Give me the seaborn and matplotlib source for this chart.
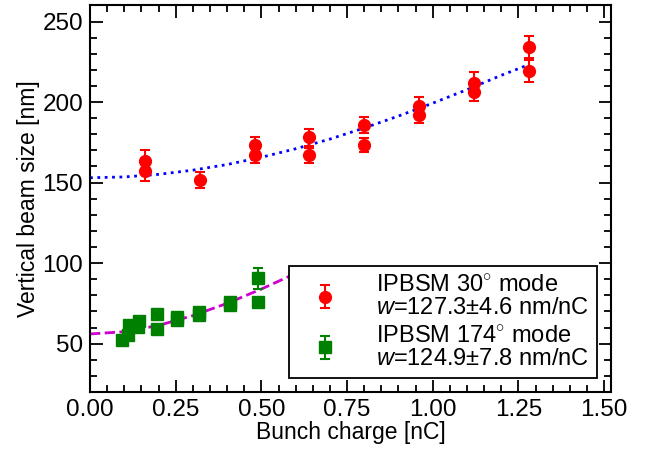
import numpy as np
import pandas as pd
import matplotlib
matplotlib.use('Agg')
import matplotlib.pyplot as plt
import seaborn as sns
from matplotlib.ticker import MultipleLocator, FormatStrFormatter

# IPBSM 30 deg mode data
q30 = [0.16, 0.16, 0.32, 0.48, 0.48, 0.64, 0.64, 0.80, 0.80, 0.96, 0.96, 1.12, 1.12, 1.28, 1.28]
s30 = [163.7, 157.3, 151.6, 173.3, 167.2, 178.0, 167.0, 185.7, 173.4, 197.3, 192.1, 211.8, 206.4, 234.3, 219.1]
e30 = [6.3, 6.6, 4.8, 4.7, 4.8, 5.4, 4.6, 4.7, 4.3, 5.6, 5.0, 6.6, 5.6, 7.0, 6.9]

# IPBSM 174 deg mode data
q174 = [0.092, 0.112, 0.114, 0.141, 0.144, 0.194, 0.194, 0.253, 0.253, 0.319, 0.319, 0.408, 0.408, 0.489, 0.489]
s174 = [52.1, 55.6, 61.8, 60.3, 63.9, 68.7, 59.3, 66.4, 64.6, 69.5, 67.7, 75.8, 73.8, 90.5, 76.0]
e174 = [1.5, 1.5, 1.5, 1.5, 1.5, 1.5, 1.5, 1.5, 1.5, 1.5, 1.5, 1.5, 1.5, 6.5, 1.5]

# fit curves
fit30_q = [0.0, 0.1, 0.2, 0.3, 0.4, 0.5, 0.6, 0.7, 0.8, 0.9, 1.0, 1.1, 1.2, 1.28]
fit30_s = [153.0, 153.5, 155.1, 157.7, 161.2, 165.7, 171.0, 177.0, 183.9, 191.3, 199.3, 207.7, 216.6, 223.2]
fit174_q = [0.0, 0.1, 0.2, 0.3, 0.4, 0.5, 0.6]
fit174_s = [56.0, 57.4, 61.3, 67.4, 75.0, 83.9, 93.6]

label30 = 'IPBSM 30$^{\\circ}$ mode\n$w$=127.3$\\pm$4.6 nm/nC'
label174 = 'IPBSM 174$^{\\circ}$ mode\n$w$=124.9$\\pm$7.8 nm/nC'

sns.set_theme(style='ticks')
plt.rcParams['font.family'] = ['Liberation Sans', 'DejaVu Sans']
plt.rcParams['mathtext.fontset'] = 'custom'
plt.rcParams['mathtext.rm'] = 'Liberation Sans'
plt.rcParams['mathtext.it'] = 'Liberation Sans:italic'
plt.rcParams['text.color'] = 'black'
plt.rcParams['axes.labelcolor'] = 'black'

fig, ax = plt.subplots(figsize=(6.5, 4.5), dpi=100)
fig.subplots_adjust(left=0.1385, right=0.94, top=0.988, bottom=0.129)

fit30 = pd.DataFrame({'q': fit30_q, 's': fit30_s})
fit174 = pd.DataFrame({'q': fit174_q, 's': fit174_s})
sns.lineplot(data=fit30, x='q', y='s', ax=ax, color='#0000ff', linestyle=':', linewidth=2, legend=False)
sns.lineplot(data=fit174, x='q', y='s', ax=ax, color='#cc00cc', linestyle='--', linewidth=2, legend=False)

ax.errorbar(q30, s30, yerr=e30, fmt='o', color='#ff0000', markersize=8.5,
            capsize=3.4, elinewidth=1.5, capthick=1.5, label=label30)
ax.errorbar(q174, s174, yerr=e174, fmt='s', color='#008000', markersize=8.5,
            capsize=3.4, elinewidth=1.5, capthick=1.5, label=label174)

ax.set_xlim(0, 1.52)
ax.set_ylim(20, 260)
ax.xaxis.set_major_locator(MultipleLocator(0.25))
ax.xaxis.set_minor_locator(MultipleLocator(0.05))
ax.xaxis.set_major_formatter(FormatStrFormatter('%.2f'))
ax.yaxis.set_major_locator(MultipleLocator(50))
ax.yaxis.set_minor_locator(MultipleLocator(10))
ax.tick_params(which='both', direction='in', top=True, right=True, labelsize=17.5, width=1.3, colors='black')
ax.tick_params(which='major', length=9, pad=5)
ax.tick_params(which='minor', length=5)
for sp in ax.spines.values():
    sp.set_linewidth(1.5)
    sp.set_color('black')

ax.set_xlabel('Bunch charge [nC]', fontsize=16.5, labelpad=0)
ax.set_ylabel('Vertical beam size [nm]', fontsize=16.5, labelpad=2)

leg = ax.legend(loc='lower right', fontsize=17, frameon=True, fancybox=False,
                edgecolor='black', framealpha=1, borderaxespad=0.6,
                handletextpad=1.0, labelspacing=0.25, borderpad=0.35, handlelength=2.3)
leg.get_frame().set_linewidth(1.3)
leg.set_zorder(10)
for t in leg.get_texts():
    t.set_linespacing(1.05)

fig.savefig('out.png', dpi=100)
